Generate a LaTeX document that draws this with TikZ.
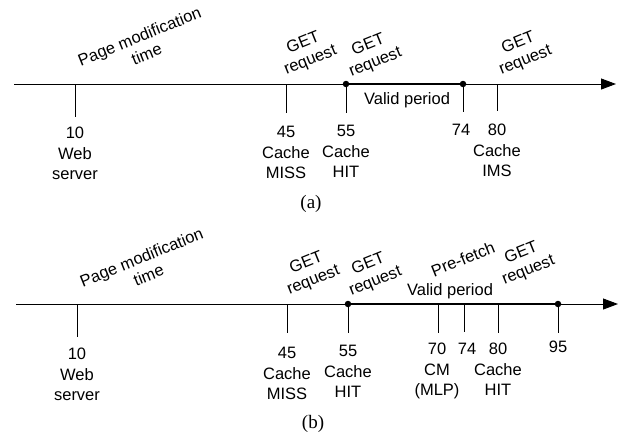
\documentclass[tikz,border=0pt]{standalone}
\usepackage{fontspec}
\setmainfont{Liberation Sans}
\newfontfamily\capfont{Liberation Serif}
\usetikzlibrary{arrows.meta}
\begin{document}
\begin{tikzpicture}[x=1pt,y=-1pt,
  lbl/.style={font=\fontsize{16.5}{20.5}\selectfont, align=center, inner sep=0pt, anchor=north},
  rlbl/.style={font=\fontsize{16.5}{19}\selectfont, align=center, inner sep=0pt, rotate=22},
  plain/.style={font=\fontsize{16.5}{20}\selectfont, inner sep=0pt},
  axisline/.style={line width=0.9pt, -{Triangle[length=15pt,width=11pt]}},
  tickline/.style={line width=0.9pt},
  validline/.style={line width=2.6pt},
  dotnode/.style={circle, fill, inner sep=0pt, minimum size=6.5pt},
  capnode/.style={font=\capfont\fontsize{19}{22}\selectfont, inner sep=0pt}
]
\useasboundingbox (0,0) rectangle (620,436);

% ---------------- panel (a) ----------------
\coordinate (as) at (14,84);
\coordinate (ae) at (616,84);
\draw[axisline] (as) -- (ae);

\coordinate (a10) at (75,84);  \coordinate (a10b) at (75,117);
\coordinate (a45) at (286,84); \coordinate (a45b) at (286,113);
\coordinate (a55) at (346,84); \coordinate (a55b) at (346,113);
\coordinate (a74) at (463,84); \coordinate (a74b) at (463,112);
\coordinate (a80) at (497,84); \coordinate (a80b) at (497,111);
\foreach \t in {10,45,55,74,80} \draw[tickline] (a\t) -- (a\t b);

\node[dotnode] (da55) at (a55) {};
\node[dotnode] (da74) at (a74) {};
\draw[validline] (da55.center) -- (da74.center);

\node[lbl] (la10) at (75,127) {10\\Web\\server};
\node[lbl] (la45) at (286,126) {45\\Cache\\MISS};
\node[lbl] (la55) at (346,125) {55\\Cache\\HIT};
\node[lbl] (la74) at (461,124) {74};
\node[lbl] (la80) at (497,124) {80\\Cache\\IMS};

\node[plain] (lav) at (407,100) {Valid period};

\node[rlbl] (lapm) at (143,45) {Page modification\\time};
\node[rlbl] (lag45) at (307,52) {GET\\request};
\node[rlbl] (lag55) at (372,54) {GET\\request};
\node[rlbl] (lag80) at (522,52) {GET\\request};

\node[capnode] (capa) at (311,204) {(a)};

% ---------------- panel (b) ----------------
\coordinate (bs) at (16,304);
\coordinate (be) at (618,304);
\draw[axisline] (bs) -- (be);

\coordinate (b10) at (77,304);  \coordinate (b10b) at (77,337);
\coordinate (b45) at (287,304); \coordinate (b45b) at (287,333);
\coordinate (b55) at (348,304); \coordinate (b55b) at (348,333);
\coordinate (b70) at (438,304); \coordinate (b70b) at (438,333);
\coordinate (b74) at (464,304); \coordinate (b74b) at (464,332);
\coordinate (b80) at (498,304); \coordinate (b80b) at (498,333);
\coordinate (b95) at (558,304); \coordinate (b95b) at (558,333);
\foreach \t in {10,45,55,70,74,80,95} \draw[tickline] (b\t) -- (b\t b);

\node[dotnode] (db55) at (b55) {};
\node[dotnode] (db95) at (b95) {};
\draw[validline] (db55.center) -- (db95.center);

\node[lbl] (lb10) at (77,348) {10\\Web\\server};
\node[lbl] (lb45) at (287,347) {45\\Cache\\MISS};
\node[lbl] (lb55) at (348,345) {55\\Cache\\HIT};
\node[lbl] (lb70) at (437,343) {70\\CM\\(MLP)};
\node[lbl] (lb74) at (467,343) {74};
\node[lbl] (lb80) at (498,343) {80\\Cache\\HIT};
\node[lbl] (lb95) at (558,341) {95};

\node[plain] (lbv) at (450,291) {Valid period};

\node[rlbl] (lbpm) at (145,266) {Page modification\\time};
\node[rlbl] (lbg45) at (310,272) {GET\\request};
\node[rlbl] (lbg55) at (372,273) {GET\\request};
\node[rlbl] (lbpf) at (463,259) {Pre-fetch};
\node[rlbl] (lbg80) at (525,262) {GET\\request};

\node[capnode] (capb) at (313,424) {(b)};
\end{tikzpicture}
\end{document}
